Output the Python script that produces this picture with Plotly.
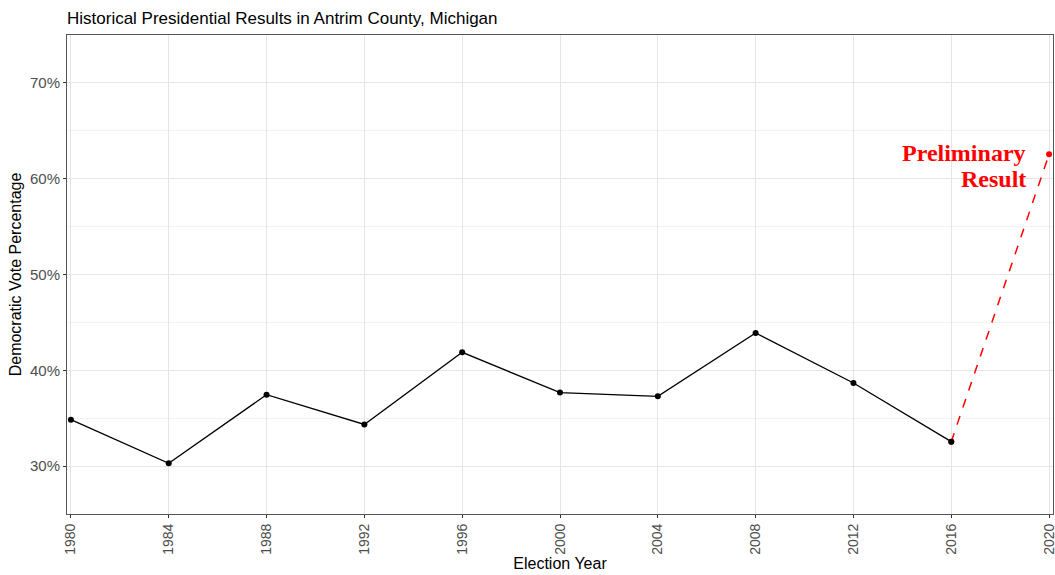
import plotly.graph_objects as go

years = [1980, 1984, 1988, 1992, 1996, 2000, 2004, 2008, 2012, 2016]
dem_pct = [34.85, 30.3, 37.45, 34.35, 41.88, 37.67, 37.28, 43.9, 38.68, 32.55]
prelim_years = [2016, 2020]
prelim_pct = [32.55, 62.55]
x_ticks = [1980, 1984, 1988, 1992, 1996, 2000, 2004, 2008, 2012, 2016, 2020]
y_ticks = [30, 40, 50, 60, 70]
y_minor = [35, 45, 55, 65]
label_lines = ["Preliminary", "Result"]

fig = go.Figure()
fig.add_trace(go.Scatter(
    x=prelim_years, y=prelim_pct, mode="lines+markers",
    line=dict(color="red", width=1.5, dash="dash"),
    marker=dict(color="red", size=6), showlegend=False, hoverinfo="skip",
    cliponaxis=False))
fig.add_trace(go.Scatter(
    x=years, y=dem_pct, mode="lines+markers",
    line=dict(color="black", width=1.3),
    marker=dict(color="black", size=6), showlegend=False, cliponaxis=False))

for line_text, ypos in zip(label_lines, [62.7, 60.0]):
    fig.add_annotation(
        x=2019.15, y=ypos, xref="x", yref="y", xanchor="right", yanchor="middle",
        align="right", showarrow=False, text=f"<b>{line_text}</b>",
        font=dict(family="Liberation Serif, Times New Roman, serif", size=24, color="red"))

fig.update_layout(
    width=1055, height=575,
    margin=dict(l=67, r=2, t=35, b=61),
    paper_bgcolor="white", plot_bgcolor="white",
    font=dict(family="Liberation Sans, Arial, sans-serif", color="black"),
    title=dict(text="Historical Presidential Results in Antrim County, Michigan",
               x=67/1055, xanchor="left", y=1-18/575, yanchor="middle",
               font=dict(size=17, color="black")),
)
fig.update_xaxes(
    range=[1979.84, 2020.16], tickvals=x_ticks, ticktext=[str(v) for v in x_ticks],
    tickangle=-90, tickfont=dict(size=14, color="#4D4D4D"), ticklabeloverflow="allow",
    automargin=False,
    ticks="outside", ticklen=3, tickcolor="#333333",
    showgrid=True, gridcolor="#E5E5E5", gridwidth=1,
    showline=True, linecolor="#555555", linewidth=1, mirror=True, zeroline=False,
    title=dict(text="Election Year", font=dict(size=16, color="black"), standoff=3))
fig.update_yaxes(
    range=[25, 75], tickvals=y_ticks, ticktext=[f"{v}%" for v in y_ticks],
    tickfont=dict(size=15, color="#4D4D4D"),
    ticks="outside", ticklen=3, tickcolor="#333333",
    showgrid=True, gridcolor="#E5E5E5", gridwidth=1,
    minor=dict(tickvals=y_minor, showgrid=True, gridcolor="#F2F2F2", gridwidth=1),
    showline=True, linecolor="#555555", linewidth=1, mirror=True, zeroline=False,
    title=dict(text="Democratic Vote Percentage", font=dict(size=16, color="black"), standoff=4))

fig.write_html(
    "out.html",
    config={"displayModeBar": False},
    post_script="document.body.style.margin='0';document.body.style.overflow='hidden';")
